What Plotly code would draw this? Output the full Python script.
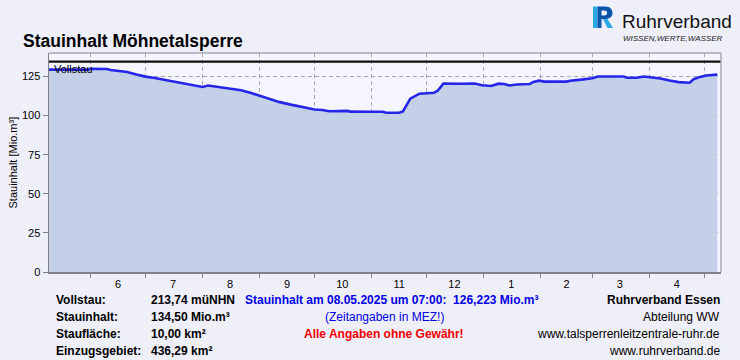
import plotly.graph_objects as go

# ---------------- data ----------------
TITLE = "Stauinhalt Möhnetalsperre"
Y_TITLE = "Stauinhalt [Mio.m³]"
VOLLSTAU = 134.5
VOLLSTAU_LABEL = "Vollstau"

dates = [
    "2024-05-09 12:00", "2024-05-31", "2024-06-01", "2024-06-10", "2024-06-12", "2024-06-17",
    "2024-06-21", "2024-06-26", "2024-07-01", "2024-07-06", "2024-07-12", "2024-07-18",
    "2024-07-25", "2024-08-01", "2024-08-04", "2024-08-09", "2024-08-15", "2024-08-22",
    "2024-08-27", "2024-09-01", "2024-09-06", "2024-09-12", "2024-09-18", "2024-09-23",
    "2024-09-28", "2024-10-01", "2024-10-05", "2024-10-08", "2024-10-09", "2024-10-19",
    "2024-10-20", "2024-11-01", "2024-11-07", "2024-11-09", "2024-11-16", "2024-11-18",
    "2024-11-20", "2024-11-22", "2024-11-27", "2024-12-01", "2024-12-05", "2024-12-07",
    "2024-12-10", "2024-12-19", "2024-12-27", "2024-12-31", "2025-01-05", "2025-01-09",
    "2025-01-12", "2025-01-15", "2025-01-19", "2025-01-26", "2025-01-28", "2025-01-31",
    "2025-02-03", "2025-02-15", "2025-02-17", "2025-02-23", "2025-03-01", "2025-03-04",
    "2025-03-18", "2025-03-20", "2025-03-25", "2025-03-29", "2025-04-01", "2025-04-07",
    "2025-04-12", "2025-04-17", "2025-04-23", "2025-04-25", "2025-04-28", "2025-05-02",
    "2025-05-08",
]
values = [
    129.4, 129.4, 129.9, 129.8, 129.1, 128.6,
    127.9, 126.3, 124.9, 124.0, 122.6, 121.6,
    120.0, 118.3, 119.2, 118.4, 117.3, 116.2,
    114.6, 112.6, 110.5, 108.6, 107.0, 105.8,
    104.4, 103.9, 103.6, 103.2, 102.8, 103.0,
    102.5, 102.4, 102.4, 101.8, 101.8, 102.6,
    107.0, 110.8, 114.0, 114.3, 114.6, 116.0,
    120.4, 120.3, 120.5, 119.4, 118.9, 120.4,
    120.2, 119.2, 119.9, 120.2, 121.5, 122.3,
    121.7, 121.7, 122.3, 123.0, 123.8, 125.0,
    125.0, 124.2, 124.2, 125.0, 124.6, 123.7,
    122.4, 121.4, 121.0, 123.2, 124.5, 125.6,
    126.2,
]

x_range = ["2024-05-09 12:00", "2025-05-10"]
month_label_pos = ["2024-06-16", "2024-07-16", "2024-08-16", "2024-09-16", "2024-10-16",
                   "2024-11-16", "2024-12-16", "2025-01-16", "2025-02-15", "2025-03-16",
                   "2025-04-16"]
month_labels = ["6", "7", "8", "9", "10", "11", "12", "1", "2", "3", "4"]
month_starts = ["2024-06-01", "2024-07-01", "2024-08-01", "2024-09-01", "2024-10-01",
                "2024-11-01", "2024-12-01", "2025-01-01", "2025-02-01", "2025-03-01",
                "2025-04-01", "2025-05-01"]
y_ticks = [0, 25, 50, 75, 100, 125]

info_labels = ["Vollstau:", "Stauinhalt:", "Staufläche:", "Einzugsgebiet:"]
info_values = ["213,74 müNHN", "134,50 Mio.m³", "10,00 km²", "436,29 km²"]
center_lines = ["Stauinhalt am 08.05.2025 um 07:00:\u00a0\u00a0126,223 Mio.m³",
                "(Zeitangaben in MEZ!)",
                "Alle Angaben ohne Gewähr!"]
right_lines = ["Ruhrverband Essen", "Abteilung WW",
               "www.talsperrenleitzentrale-ruhr.de", "www.ruhrverband.de"]
LOGO_NAME = "Ruhrverband"
LOGO_SLOGAN = "WISSEN,WERTE,WASSER"

# ---------------- geometry helpers ----------------
W, H = 740, 360
L, R, T, B = 49, 721, 53, 272


def px(x):
    return (x - L) / (R - L)


def py(y):
    return (B - y) / (B - T)


def path(cmds):
    out = []
    for c in cmds:
        if isinstance(c, str):
            out.append(c)
        else:
            out.append(f"{px(c[0]):.5f},{py(c[1]):.5f}")
    return " ".join(out)


FONT = "Liberation Sans, Arial, Helvetica, sans-serif"
BG = "#efeffa"
PLOT_BG = "#f5f5ff"

fig = go.Figure()

fig.add_trace(go.Scatter(
    x=dates, y=values, mode="lines", fill="tozeroy",
    fillcolor="rgb(196,208,232)",
    line=dict(color="rgb(38,38,232)", width=2.6, shape="linear"),
    hoverinfo="skip", showlegend=False,
))
fig.add_trace(go.Scatter(
    x=x_range, y=[VOLLSTAU, VOLLSTAU], mode="lines",
    line=dict(color="#111111", width=2.2),
    hoverinfo="skip", showlegend=False,
))

annotations = []
annotations.append(dict(text=f"<b>{TITLE}</b>", xref="paper", yref="paper",
                        x=px(21), y=py(41), xanchor="left", yanchor="middle",
                        showarrow=False, font=dict(family=FONT, size=17.5, color="#000")))
annotations.append(dict(text=Y_TITLE, xref="paper", yref="paper", x=px(12), y=0.5,
                        xanchor="center", yanchor="middle", textangle=-90, showarrow=False,
                        font=dict(family=FONT, size=11, color="#000")))
annotations.append(dict(text=VOLLSTAU_LABEL, xref="paper", yref="y", x=px(52), y=VOLLSTAU,
                        xanchor="left", yanchor="top", yshift=1, showarrow=False,
                        font=dict(family=FONT, size=11, color="#000")))
rows_y = [300, 317, 334, 351]
for lab, val, yy in zip(info_labels, info_values, rows_y):
    annotations.append(dict(text=f"<b>{lab}</b>", xref="paper", yref="paper", x=px(54), y=py(yy),
                            xanchor="left", yanchor="middle", showarrow=False,
                            font=dict(family=FONT, size=12, color="#000")))
    annotations.append(dict(text=f"<b>{val}</b>", xref="paper", yref="paper", x=px(149), y=py(yy),
                            xanchor="left", yanchor="middle", showarrow=False,
                            font=dict(family=FONT, size=12, color="#000")))
annotations.append(dict(text=f"<b>{center_lines[0]}</b>", xref="paper", yref="paper",
                        x=px(391), y=py(rows_y[0]), xanchor="center", yanchor="middle",
                        showarrow=False, font=dict(family=FONT, size=12, color="#0000e6")))
annotations.append(dict(text=center_lines[1], xref="paper", yref="paper",
                        x=px(384), y=py(rows_y[1]), xanchor="center", yanchor="middle",
                        showarrow=False, font=dict(family=FONT, size=12, color="#0000e6")))
annotations.append(dict(text=f"<b>{center_lines[2]}</b>", xref="paper", yref="paper",
                        x=px(384), y=py(rows_y[2]), xanchor="center", yanchor="middle",
                        showarrow=False, font=dict(family=FONT, size=12, color="#f00000")))
for i, (txt, yy) in enumerate(zip(right_lines, rows_y)):
    t = f"<b>{txt}</b>" if i == 0 else txt
    annotations.append(dict(text=t, xref="paper", yref="paper", x=px(722), y=py(yy),
                            xanchor="right", yanchor="middle", showarrow=False,
                            font=dict(family=FONT, size=12, color="#000")))
annotations.append(dict(text=LOGO_NAME, xref="paper", yref="paper", x=px(620), y=py(21),
                        xanchor="left", yanchor="middle", showarrow=False,
                        font=dict(family=FONT, size=19, color="#111111")))
annotations.append(dict(text=f"<i>{LOGO_SLOGAN}</i>", xref="paper", yref="paper", x=px(621), y=py(38.5),
                        xanchor="left", yanchor="middle", showarrow=False,
                        font=dict(family=FONT, size=8, color="#1a1a1a")))

shapes = []
shapes.append(dict(type="line", xref="paper", yref="paper", x0=0, x1=1, y0=1, y1=1,
                   line=dict(color="#a8a8b4", width=1.5)))
shapes.append(dict(type="line", xref="paper", yref="paper", x0=1, x1=1, y0=0, y1=1,
                   line=dict(color="#a8a8b4", width=1.5)))
shapes.append(dict(type="path", xref="paper", yref="paper", layer="above",
                   path=path(["M", (593, 6.5), "L", (597.5, 6.5), "L", (597.5, 28), "L", (593, 28), "Z"]),
                   fillcolor="#2aa8e2", line=dict(width=0)))
shapes.append(dict(type="path", xref="paper", yref="paper", layer="above",
                   path=path(["M", (597.5, 6.5), "L", (605, 6.5), "C", (611, 6.5), (612.5, 10), (612.5, 13),
                              "C", (612.5, 16.5), (610, 18.5), (606.5, 19), "L", (601.5, 19), "L", (601.5, 28),
                              "L", (597.5, 28), "Z"]),
                   fillcolor="#0b55a8", line=dict(width=0)))
shapes.append(dict(type="path", xref="paper", yref="paper", layer="above",
                   path=path(["M", (601.5, 10.5), "L", (604.5, 10.5), "C", (608, 10.5), (608, 15.5), (604.5, 15.5),
                              "L", (601.5, 15.5), "Z"]),
                   fillcolor=BG, line=dict(width=0)))
shapes.append(dict(type="path", xref="paper", yref="paper", layer="above",
                   path=path(["M", (603, 19), "L", (607.5, 19), "L", (613, 28), "L", (607.5, 28), "Z"]),
                   fillcolor="#2aa8e2", line=dict(width=0)))

fig.update_layout(
    width=W, height=H,
    margin=dict(l=L, r=W - R, t=T, b=H - B, pad=0),
    paper_bgcolor=BG, plot_bgcolor=PLOT_BG,
    font=dict(family=FONT, size=11, color="#000"),
    showlegend=False,
    annotations=annotations,
    shapes=shapes,
    hovermode=False,
)
fig.update_xaxes(
    type="date", range=x_range,
    tickmode="array", tickvals=month_label_pos, ticktext=month_labels,
    ticks="outside", ticklen=1, tickcolor="rgba(0,0,0,0)",
    showgrid=False, zeroline=False,
    showline=True, linecolor="#808088", linewidth=1.5,
    tickfont=dict(family=FONT, size=11, color="#000"),
    minor=dict(tickmode="array", tickvals=month_starts, ticks="outside", ticklen=4,
               tickcolor="#808088", showgrid=True, gridcolor="#a4a8b6",
               griddash="4px,3px", gridwidth=1),
    fixedrange=True,
)
fig.update_yaxes(
    range=[0, 140], tickmode="array", tickvals=y_ticks,
    ticks="outside", ticklen=5, tickcolor="#808088",
    showgrid=True, gridcolor="#a4a8b6", griddash="4px,3px", gridwidth=1,
    zeroline=False, showline=True, linecolor="#808088", linewidth=1.5,
    tickfont=dict(family=FONT, size=11, color="#000"),
    fixedrange=True,
)

fig.write_html("out.html", config={"displayModeBar": False, "staticPlot": True},
               post_script="document.body.style.margin='0';document.body.style.overflow='hidden';")
